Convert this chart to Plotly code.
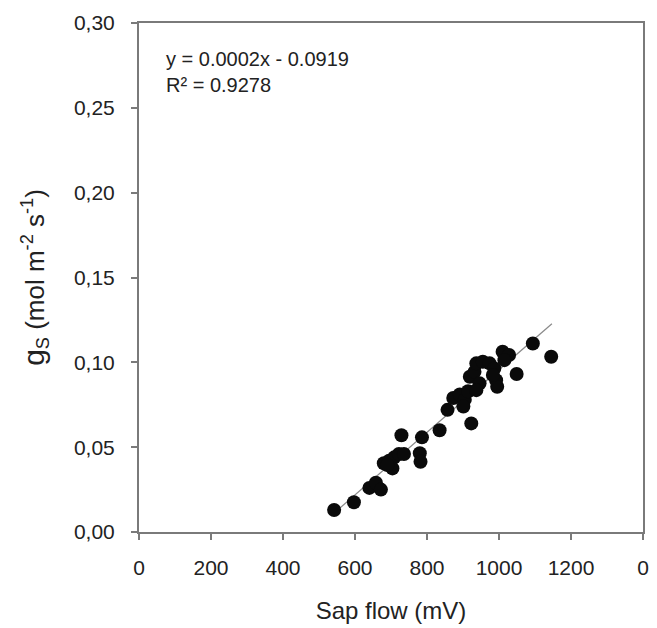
import numpy as np
import plotly.graph_objects as go

sap_flow = [542, 597, 640, 658, 672, 680, 695, 709, 722, 736, 704, 690, 729, 786, 780, 782,
            835, 857, 873, 891, 905, 901, 914, 923, 919, 932, 937, 946, 937, 955, 974, 987,
            992, 995, 983, 1010, 1028, 1015, 1049, 1094, 1145]
gs = [0.013, 0.0175, 0.026, 0.029, 0.025, 0.0405, 0.042, 0.044, 0.046, 0.046, 0.0375, 0.0395,
      0.057, 0.0558, 0.0464, 0.0414, 0.060, 0.072, 0.079, 0.081, 0.078, 0.074, 0.083, 0.064,
      0.0915, 0.0944, 0.0994, 0.0876, 0.0836, 0.1003, 0.0994, 0.0964, 0.0895, 0.0856, 0.0925,
      0.1062, 0.1043, 0.1013, 0.0931, 0.1111, 0.1033]

x_ticks = [0, 200, 400, 600, 800, 1000, 1200, 1400]
x_ticktext = ["0", "200", "400", "600", "800", "1000", "1200", "0"]
y_ticks = [0.0, 0.05, 0.10, 0.15, 0.20, 0.25, 0.30]
y_ticktext = ["0,00", "0,05", "0,10", "0,15", "0,20", "0,25", "0,30"]
equation_text = "y = 0.0002x - 0.0919<br>R² = 0.9278"

slope, intercept = np.polyfit(sap_flow, gs, 1)
line_x = [min(sap_flow) - 5, max(sap_flow) + 2]
line_y = [slope * v + intercept for v in line_x]

fig = go.Figure()
fig.add_trace(go.Scatter(x=line_x, y=line_y, mode="lines",
                         line=dict(color="#8a8a8a", width=1.2), showlegend=False))
fig.add_trace(go.Scatter(x=sap_flow, y=gs, mode="markers",
                         marker=dict(color="#0a0a0a", size=14), showlegend=False))

font_family = "Liberation Sans, Arial, sans-serif"
axis_common = dict(showline=True, linecolor="#7a7a7a", linewidth=2, mirror=True,
                   ticks="outside", ticklen=6, tickcolor="#7a7a7a", tickwidth=1.5,
                   showgrid=False, zeroline=False,
                   tickfont=dict(family=font_family, size=21, color="#222222"))

fig.update_layout(
    width=657, height=628,
    margin=dict(l=139, r=8, t=23, b=95),
    paper_bgcolor="white", plot_bgcolor="white",
    font=dict(family=font_family, color="#222222"),
    xaxis=dict(range=[0, 1400], tickvals=x_ticks, ticktext=x_ticktext, ticklabelstandoff=10,
               title=dict(text="Sap flow (mV)", font=dict(size=24, family=font_family), standoff=24),
               **axis_common),
    yaxis=dict(range=[0, 0.30], tickvals=y_ticks, ticktext=y_ticktext, ticklabelstandoff=12,
               title=dict(text="<span style='font-size:30px'>g</span><sub>S</sub> (mol m<sup>-2</sup> s<sup>-1</sup>)",
                          font=dict(size=26, family=font_family), standoff=22),
               **axis_common),
)
fig.add_annotation(x=0.05, y=0.955, xref="paper", yref="paper", xanchor="left", yanchor="top",
                   text=equation_text, showarrow=False, align="left",
                   font=dict(family=font_family, size=20, color="#222222"))

fig.write_html("out.html")
